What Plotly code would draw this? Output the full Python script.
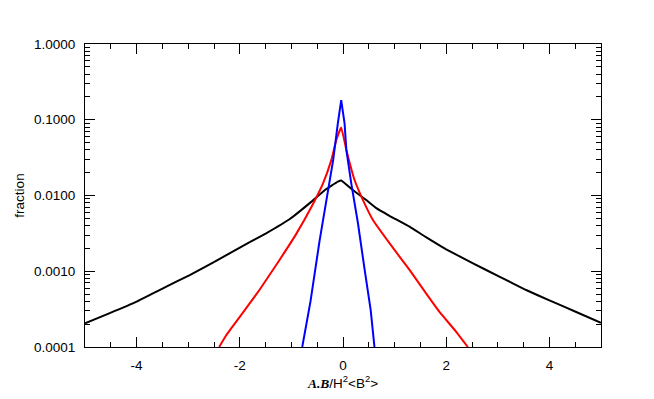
import plotly.graph_objects as go

# black curve
black_x = [-5.0, -4.52, -4.0, -3.49, -2.97, -2.52, -2.0, -1.49, -1.03, -0.61, -0.35, -0.1, -0.035,
           0.19, 0.45, 0.645, 0.9, 1.29, 1.6, 2.0, 2.52, 3.03, 3.55, 4.0, 4.52, 5.0]
black_y = [2.06e-4, 2.8e-4, 3.97e-4, 5.96e-4, 8.9e-4, 1.3e-3, 2.05e-3, 3.17e-3, 4.9e-3, 8.3e-3, 1.18e-2, 1.52e-2, 1.58e-2,
           1.18e-2, 8.7e-3, 6.8e-3, 5.4e-3, 3.87e-3, 2.85e-3, 1.95e-3, 1.27e-3, 8.5e-4, 5.65e-4, 4.12e-4, 2.9e-4, 2.09e-4]

# red curve
red_x = [-2.40, -2.26, -2.0, -1.62, -1.23, -0.92, -0.61, -0.387, -0.225, -0.13, -0.035,
         0.065, 0.226, 0.387, 0.58, 0.9, 1.29, 1.61, 1.87, 2.19, 2.42]
red_y = [1.0e-4, 1.44e-4, 2.5e-4, 5.65e-4, 1.41e-3, 3.0e-3, 7.1e-3, 1.45e-2, 2.95e-2, 5.4e-2, 7.9e-2,
         4.0e-2, 1.59e-2, 8.7e-3, 4.75e-3, 2.35e-3, 1.04e-3, 5.1e-4, 2.9e-4, 1.6e-4, 1.0e-4]

# blue curve
blue_x = [-0.79, -0.63, -0.455, -0.29, -0.19, -0.10, -0.035, 0.03, 0.065, 0.16, 0.29, 0.42, 0.536, 0.61]
blue_y = [1.0e-4, 4.0e-4, 2.5e-3, 1.18e-2, 2.95e-2, 8.98e-2, 1.82e-1, 8.98e-2, 4.0e-2, 1.45e-2, 4.3e-3, 1.04e-3, 3.1e-4, 1.0e-4]

y_ticks = [1e-4, 1e-3, 1e-2, 1e-1, 1.0]
y_ticktext = ["0.0001", "0.0010", "0.0100", "0.1000", "1.0000"]
x_ticks = [-4, -2, 0, 2, 4]
x_ticktext = ["-4", "-2", "0", "2", "4"]

y_minor = [m * 10.0 ** e for e in range(-4, 0) for m in range(2, 10)]
x_minor = [v / 2 for v in range(-10, 11)]

fig = go.Figure()
for xs, ys, col, shape in [(black_x, black_y, "black", "spline"),
                           (red_x, red_y, "#ff0000", "spline"),
                           (blue_x, blue_y, "#0000ff", "linear")]:
    line = dict(color=col, width=2, shape=shape)
    if shape == "spline":
        line["smoothing"] = 0.3
    fig.add_trace(go.Scatter(x=xs, y=ys, mode="lines", line=line,
                             showlegend=False, hoverinfo="skip"))

font = dict(family="Liberation Sans, Arial, sans-serif", size=13.5, color="black")

fig.update_layout(
    width=654, height=399,
    margin=dict(l=77, r=61, t=36, b=60),
    paper_bgcolor="white", plot_bgcolor="white",
    font=font,
    xaxis=dict(
        range=[-5, 5], tickvals=x_ticks, ticktext=x_ticktext,
        ticks="inside", ticklen=10, tickcolor="black", tickwidth=1,
        showline=True, linecolor="black", linewidth=1, mirror="allticks",
        showgrid=False, zeroline=False, ticklabelstandoff=6,
        minor=dict(tickvals=x_minor, ticks="inside", ticklen=5, tickcolor="black", showgrid=False),
        title=dict(text='<span style="font-family:Liberation Serif, serif"><b><i>A.B</i></b></span>/H<sup>2</sup>&lt;B<sup>2</sup>&gt;',
                   standoff=4, font=font),
    ),
    yaxis=dict(
        type="log", range=[-4, 0], tickvals=y_ticks, ticktext=y_ticktext,
        ticks="inside", ticklen=10, tickcolor="black", tickwidth=1,
        showline=True, linecolor="black", linewidth=1, mirror="allticks",
        showgrid=False, zeroline=False, ticklabelstandoff=6,
        minor=dict(tickvals=y_minor, ticks="inside", ticklen=5, tickcolor="black", showgrid=False),
        title=dict(text="fraction", standoff=6, font=font),
    ),
)

fig.write_html("out.html")
